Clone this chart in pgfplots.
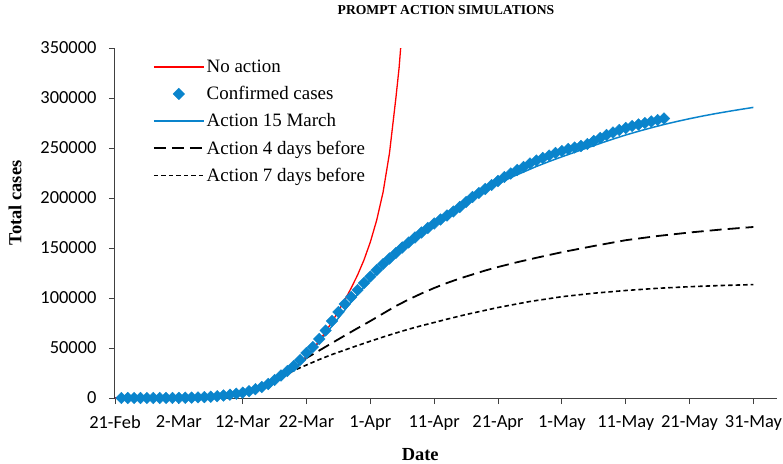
\documentclass[border=0pt]{standalone}
\usepackage{fontspec}
\setmainfont{Liberation Serif}
\newfontfamily\calibri{Carlito}
\usepackage{pgfplots}
\pgfplotsset{compat=1.18}
\definecolor{cblue}{HTML}{0A84CC}
\definecolor{axgray}{HTML}{404040}
\begin{document}
\begin{tikzpicture}
\useasboundingbox (-115bp,-66bp) rectangle (668bp,398bp);
\begin{axis}[
  at={(0,0)}, anchor=south west,
  scale only axis, width=662bp, height=350bp,
  xmin=0, xmax=103.7, ymin=0, ymax=350000,
  scaled y ticks=false,
  axis x line*=bottom, axis y line*=left,
  axis line style={axgray, line width=1bp},
  xtick={0,10,...,100},
  xticklabels={21-Feb,2-Mar,12-Mar,22-Mar,1-Apr,11-Apr,21-Apr,1-May,11-May,21-May,31-May},
  ytick={0,50000,100000,150000,200000,250000,300000,350000},
  yticklabels={0,50000,100000,150000,200000,250000,300000,350000},
  tick align=outside, major tick length=6bp,
  tick style={axgray, line width=0.9bp},
  tick label style={font=\calibri\fontsize{18.5}{20}\selectfont},
  xticklabel style={yshift=-8bp},
  yticklabel style={xshift=-9bp},
  title={\textbf{PROMPT ACTION SIMULATIONS}},
  title style={font=\fontsize{13.7}{15}\selectfont, at={(axis description cs:0.5,1)}, anchor=base, yshift=27.5bp},
  xlabel={\textbf{Date}},
  xlabel style={font=\fontsize{18.5}{20}\selectfont, at={(axis description cs:0.461,0)}, anchor=base, yshift=-62bp},
  ylabel={\textbf{Total cases}},
  ylabel style={font=\fontsize{18.5}{20}\selectfont, at={(axis description cs:-0.151,0.557)}, anchor=center},
  legend style={draw=none, fill=none, at={(axis description cs:0.057,0.972)}, anchor=north west,
    font=\fontsize{19}{23}\selectfont, row sep=8.5bp, inner sep=0pt},
  legend cell align=left,
  legend image code/.code={\draw[mark repeat=2,mark phase=2,#1] plot coordinates {(-5bp,0bp) (20bp,0bp) (45bp,0bp)};},
]
\addlegendimage{red, line width=1.3bp}
\addlegendentry{No action}
\addlegendimage{only marks, mark=square*, mark size=4.1bp, mark options={rotate=45, fill=cblue, draw=cblue}}
\addlegendentry{Confirmed cases}
\addlegendimage{cblue, line width=1.5bp}
\addlegendentry{Action 15 March}
\addlegendimage{black, line width=1.8bp, dash pattern=on 12bp off 6bp}
\addlegendentry{Action 4 days before}
\addlegendimage{black, line width=1.6bp, dash pattern=on 4.5bp off 3bp}
\addlegendentry{Action 7 days before}

% Action 7 days before
\addplot[forget plot, black, line width=1.6bp, dash pattern=on 4.5bp off 3bp] coordinates {
(0,0) (5,30) (10,200) (14,800) (16,1500) (18,2700) (20,4700) (22,7800) (24,12500) (26,19500)
(27,23500) (28,27500) (30,33000) (32,38500) (34,43500) (36,48000) (38,52500) (40,56800)
(42,61000) (44,65000) (46,68800) (48,72300) (50,75500) (52,78800) (55,83500) (60,90500)
(65,96500) (70,101300) (75,104800) (80,107500) (85,109700) (90,111300) (95,112500) (100,113400)};
% Action 4 days before
\addplot[forget plot, black, line width=1.8bp, dash pattern=on 12bp off 6bp] coordinates {
(0,0) (5,30) (10,200) (14,800) (16,1500) (18,2700) (20,4700) (22,7800) (24,12500) (26,19500)
(28,29000) (30,40000) (32,47500) (34,55000) (36,62500) (38,69800) (40,77000) (42,84500)
(44,92000) (46,98500) (48,104500) (50,110000) (52,115000) (54,119500) (56,123500) (58,127500)
(60,131000) (63,135800) (66,140200) (70,145800) (75,152000) (80,157800) (85,162000)
(90,165500) (95,168500) (100,171000)};
% Action 15 March (fit)
\addplot[forget plot, cblue, line width=1.5bp] coordinates {
(0,0) (5,30) (10,200) (14,800) (16,1500) (18,2700) (20,4700) (22,7800) (24,12500) (26,19500)
(28,29000) (30,41500) (32,56000) (34,72000) (36,88000) (38,104000) (40,118500) (42,132000)
(44,144000) (46,155000) (48,165000) (50,174500) (52,183000) (54,191500) (56,199500)
(58,207000) (60,214000) (62,220500) (64,226000) (66,231500) (68,236500) (70,241200)
(72,245700) (74,250200) (76,254600) (78,258900) (80,263000) (82,266700) (84,270200)
(86,273500) (88,276500) (90,279300) (92,281900) (94,284300) (96,286500) (98,288600) (100,290600)};
% No action
\addplot[forget plot, red, line width=1.3bp] coordinates {
(0,0) (5,30) (10,200) (14,800) (16,1500) (18,2700) (20,4700) (22,7800) (24,12500) (26,19500)
(28,29000) (30,41500) (32,57000) (34,76000) (35,87000) (36,98000) (37,110000) (38,123000)
(39,138000) (40,156000) (41,178000) (42,206000) (43,245000) (44,300000) (44.5,330000) (45,370000)};
% Confirmed cases
\addplot[forget plot, only marks, mark=square*, mark size=4.1bp, mark options={rotate=45, fill=cblue, draw=cblue}] coordinates {
(1,0) (2,0) (3,0) (4,0) (5,0) (6,0) (7,0) (8,50) (9,100) (10,150)
(11,250) (12,400) (13,600) (14,900) (15,1300) (16,1800) (17,2500) (18,3300) (19,4300) (20,5300)
(21,6800) (22,8800) (23,11000) (24,14000) (25,18000) (26,22500) (27,27000) (28,32000) (29,38000) (30,45000)
(31,51000) (32,59000) (33,67500) (34,77000) (35,86000) (36,94000) (37,101000) (38,108000) (39,115000) (40,121500)
(41,128000) (42,134000) (43,139500) (44,145000) (45,150500) (46,155500) (47,160500) (48,165500) (49,170000) (50,174500)
(51,178500) (52,182500) (53,186500) (54,191000) (55,196000) (56,201000) (57,205000) (58,209000) (59,213000) (60,217000)
(61,221000) (62,224500) (63,228000) (64,231000) (65,234500) (66,237500) (67,240000) (68,242500) (69,245000) (70,247000)
(71,249000) (72,250500) (73,252000) (74,254000) (75,257000) (76,260000) (77,263000) (78,265500) (79,268000) (80,270000)
(81,272000) (82,273500) (83,275000) (84,276500) (85,278000) (86,279500)};
\end{axis}
\end{tikzpicture}
\end{document}
